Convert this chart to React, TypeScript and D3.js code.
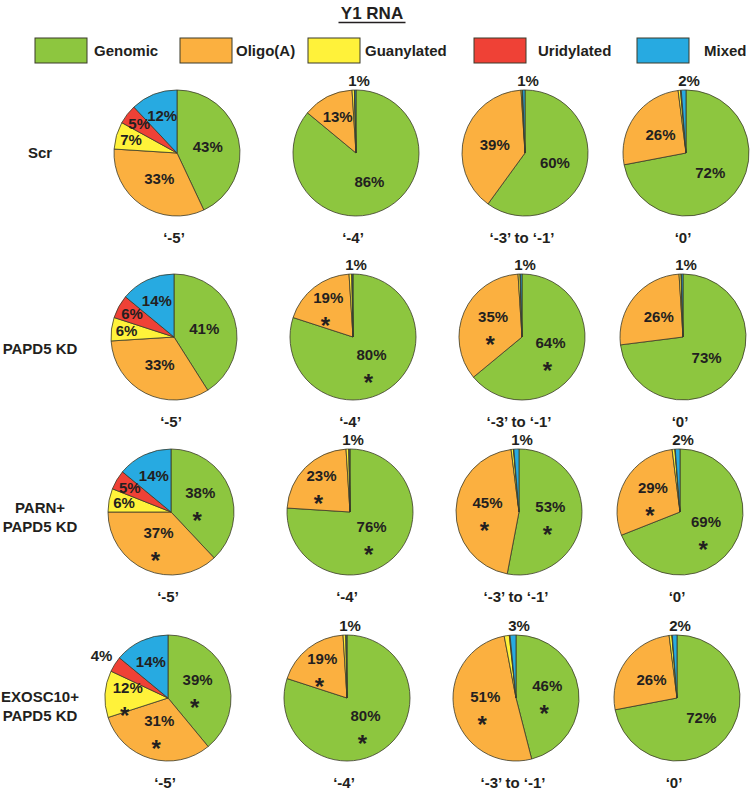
import * as d3 from "d3";

// legend / slice categories, clockwise from 12 o'clock
const categories = ["Genomic", "Oligo(A)", "Guanylated", "Uridylated", "Mixed"];
const colors = ["#8dc63f", "#fbb040", "#fff23a", "#ef4136", "#27aae1"];

const conditions = [["Scr"], ["PAPD5 KD"], ["PARN+", "PAPD5 KD"], ["EXOSC10+", "PAPD5 KD"]];
const positions = ["‘-5’", "‘-4’", "‘-3’ to ‘-1’", "‘0’"];

// percent per category, one array per position
const scrValues = [[43, 33, 7, 5, 12], [86, 13, 0.6, 0.1, 0.3], [60, 39, 0.3, 0.1, 0.6], [72, 26, 0.6, 0.2, 1.2]];
const papd5Values = [[41, 33, 6, 6, 14], [80, 19, 0.7, 0.1, 0.2], [64, 35, 0.5, 0.1, 0.4], [73, 26, 0.5, 0.1, 0.4]];
const parnValues = [[38, 37, 6, 5, 14], [76, 23, 0.7, 0.1, 0.2], [53, 45, 0.6, 0.1, 1.3], [69, 29, 0.7, 0.1, 1.2]];
const exoscValues = [[39, 31, 12, 4, 14], [80, 19, 0.7, 0.1, 0.2], [46, 51, 1.3, 0.2, 1.5], [72, 26, 0.7, 0.1, 1.2]];

// label for the tiny slices, shown above the pie
const scrTop = ["", "1%", "1%", "2%"];
const papd5Top = ["", "1%", "1%", "1%"];
const parnTop = ["", "1%", "1%", "2%"];
const exoscTop = ["", "1%", "3%", "2%"];

// slices marked significant (*)
const scrStars = [[], [], [], []];
const papd5Stars = [[], [0, 1], [0, 1], []];
const parnStars = [[0, 1], [0, 1], [0, 1], [0, 1]];
const exoscStars = [[0, 1, 2], [0, 1], [0, 1], []];

const allValues = [scrValues, papd5Values, parnValues, exoscValues];
const allTop = [scrTop, papd5Top, parnTop, exoscTop];
const allStars = [scrStars, papd5Stars, parnStars, exoscStars];

// layout
const W = 750;
const H = 797;
const R = 63;
const colX = [177, 356, 525, 686];
const rowShift = [0, -3, -6, -9];
const rowY = [153, 337, 512, 698];
const rowLabelDy = [0, 12, 5, 8];
const legendBoxX = [35, 180, 308, 474, 637];
const legendTextX = [94, 236, 365, 538, 704];
const font = "'Liberation Sans', Arial, Helvetica, sans-serif";
const ink = "#231f20";

const pie = d3.pie<number>().sort(null).value(d => d);
const arc = d3.arc<d3.PieArcDatum<number>>().innerRadius(0).outerRadius(R);

const labelRatio = (v: number) => (v < 5 ? 1.25 : v < 10 ? 0.76 : v < 25 ? 0.64 : 0.5);

const Pie = ({ values, top, stars, cx, cy }: { values: number[]; top: string; stars: number[]; cx: number; cy: number }) => {
    const arcs = pie(values);
    return (
        <g transform={`translate(${cx},${cy})`}>
            {arcs.map((a, i) => (
                <path key={i} d={arc(a) || ""} fill={colors[i]} stroke="#3b3b2a" strokeWidth={0.8} strokeLinejoin="round" />
            ))}
            {arcs.map((a, i) => {
                const v = a.data;
                if (v < 2) return null;
                const mid = (a.startAngle + a.endAngle) / 2;
                const r = R * labelRatio(v);
                const x = Math.sin(mid) * r;
                const y = -Math.cos(mid) * r;
                const starred = stars.includes(i);
                return (
                    <g key={"l" + i}>
                        <text x={x} y={starred ? y - 8 : y} dy="0.36em" textAnchor="middle"
                            fontFamily={font} fontWeight="bold" fontSize={15} fill={ink}>
                            {`${Math.round(v)}%`}
                        </text>
                        {starred && (
                            <text x={x - 3} y={y + 14} dy="0.6em" textAnchor="middle"
                                fontFamily={font} fontWeight="bold" fontSize={24} fill={ink}>
                                *
                            </text>
                        )}
                    </g>
                );
            })}
            {top && (
                <text x={3} y={-R - 4} textAnchor="middle" fontFamily={font} fontWeight="bold" fontSize={15} fill={ink}>
                    {top}
                </text>
            )}
        </g>
    );
};

export default function App() {
    const titleW = 67;
    return (
        <svg width={W} height={H} style={{ position: "absolute", left: 0, top: 0, background: "#fff" }}>
            <text x={372} y={19} textAnchor="middle" fontFamily={font} fontWeight="bold" fontSize={17} fill={ink}>
                Y1 RNA
            </text>
            <line x1={372 - titleW / 2} x2={372 + titleW / 2} y1={22.5} y2={22.5} stroke={ink} strokeWidth={1.5} />

            {categories.map((c, i) => (
                <g key={c}>
                    <rect x={legendBoxX[i]} y={38} width={52} height={25} fill={colors[i]} stroke="#3b3b2a" strokeWidth={1} />
                    <text x={legendTextX[i]} y={56} fontFamily={font} fontWeight="bold" fontSize={15} fill={ink}>
                        {c}
                    </text>
                </g>
            ))}

            {conditions.map((lines, ri) => {
                const cy = rowY[ri];
                const ly = cy + rowLabelDy[ri] - ((lines.length - 1) * 19) / 2;
                return (
                    <g key={ri}>
                        <text x={40} y={ly} dy="0.36em" textAnchor="middle" fontFamily={font} fontWeight="bold" fontSize={15} fill={ink}>
                            {lines.map((l, li) => (
                                <tspan key={li} x={40} dy={li === 0 ? "0.36em" : 19}>{l}</tspan>
                            ))}
                        </text>
                        {positions.map((p, ci) => {
                            const cx = colX[ci] + rowShift[ri];
                            return (
                                <g key={ci}>
                                    <Pie values={allValues[ri][ci]} top={allTop[ri][ci]} stars={allStars[ri][ci]} cx={cx} cy={cy} />
                                    <text x={cx - 3} y={cy + 85} dy="0.36em" textAnchor="middle" fontFamily={font} fontWeight="bold" fontSize={15} fill={ink}>
                                        {p}
                                    </text>
                                </g>
                            );
                        })}
                    </g>
                );
            })}
        </svg>
    );
}
